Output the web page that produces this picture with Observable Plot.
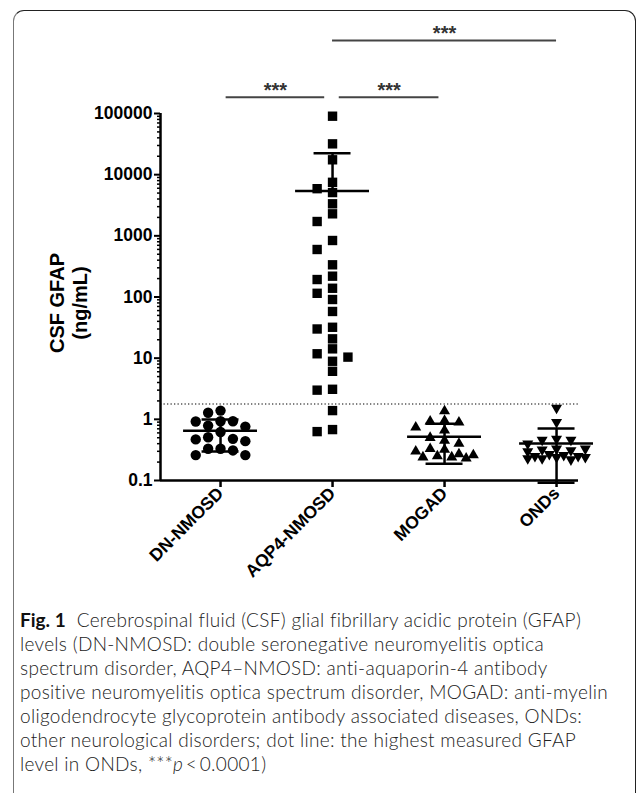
<!DOCTYPE html>
<html><head><meta charset="utf-8">
<script src="https://cdn.jsdelivr.net/npm/d3@7"></script>
<script src="https://cdn.jsdelivr.net/npm/@observablehq/plot@0.6"></script>
<style>
html,body{margin:0;padding:0;background:#fff;}
body{width:637px;height:793px;overflow:hidden;position:relative;font-family:"Liberation Sans",Arial,sans-serif;}
#frame{position:absolute;left:13px;top:10px;width:623px;height:800px;border-top:1.5px solid #222;border-left:1.5px solid #777;border-right:1.5px solid #222;border-radius:11px 11px 0 0;box-sizing:border-box;}
#chart{position:absolute;left:0;top:0;}
#caption{position:absolute;left:20px;top:608px;font-family:Lato,"Open Sans",sans-serif;font-weight:300;font-size:19px;letter-spacing:0.3px;line-height:24px;color:#222;white-space:nowrap;}
#caption b{font-weight:700;color:#111;letter-spacing:0;}
</style>
</head><body>
<div id="frame"></div>
<div id="chart"></div>
<div id="caption">
<div><b>Fig. 1</b>&nbsp; Cerebrospinal fluid (CSF) glial fibrillary acidic protein (GFAP)</div>
<div>levels (DN-NMOSD: double seronegative neuromyelitis optica</div>
<div>spectrum disorder, AQP4–NMOSD: anti-aquaporin-4 antibody</div>
<div>positive neuromyelitis optica spectrum disorder, MOGAD: anti-myelin</div>
<div>oligodendrocyte glycoprotein antibody associated diseases, ONDs:</div>
<div>other neurological disorders; dot line: the highest measured GFAP</div>
<div>level in ONDs, ***<i>p</i>&thinsp;&lt;&thinsp;0.0001)</div>
</div>
<script>
// ---- data (ng/mL) ----
const categories = ["DN-NMOSD", "AQP4-NMOSD", "MOGAD", "ONDs"];
const dnNmosd = [1.39, 1.28, 0.93, 0.92, 0.93, 0.79, 0.76, 0.62, 0.51, 0.48, 0.47, 0.44, 0.33, 0.33, 0.31, 0.26, 0.26];
const aqp4Nmosd = [90300, 31900, 17500, 7500, 5900, 5100, 3340, 2290, 1715, 839, 598, 336, 219, 193, 139, 115, 91, 58, 32, 30, 20.7, 14.2, 11.8, 10.4, 8.9, 6.1, 3.1, 3.0, 1.39, 0.68, 0.63];
const mogad = [1.36, 0.95, 0.93, 0.89, 0.74, 0.66, 0.50, 0.45, 0.40, 0.33, 0.32, 0.30, 0.27, 0.26, 0.25, 0.24, 0.24, 0.23];
const onds = [1.54, 0.90, 0.48, 0.46, 0.46, 0.40, 0.33, 0.33, 0.32, 0.31, 0.30, 0.27, 0.26, 0.25, 0.25, 0.24, 0.24, 0.23, 0.23, 0.22];
const yTicks = [0.1, 1, 10, 100, 1000, 10000, 100000];
const ondsHighest = 1.78; // dotted reference line
// significance brackets (group index span, height in ng/mL)
const sigX1 = [0.05, 1.06, 1.0];
const sigX2 = [0.93, 1.95, 3.0];
const sigY = [1.85e5, 1.85e5, 1.56e6];
const sigLabel = ["***", "***", "***"];

// ---- layout ----
const W = 637, H = 600, mL = 160, mR = 59, mT = 113, mB = 120;
const xDomain = [-0.536, 3.196];
const yDomain = [0.1, 100000];
const yPx = d3.scaleLog().domain(yDomain).range([H - mB, mT]);
const pxPerUnit = (W - mL - mR) / (xDomain[1] - xDomain[0]);

const downTriangle = {
  draw(ctx, size) {
    const s3 = Math.sqrt(3);
    const y = -Math.sqrt(size / (s3 * 3));
    ctx.moveTo(0, -y * 2);
    ctx.lineTo(-s3 * y, y);
    ctx.lineTo(s3 * y, y);
    ctx.closePath();
  }
};

// scatter placement (GraphPad-like) computed from the values
function dodge(vals, gi, step, thr, maxOff) {
  const order = d3.range(vals.length).sort((a, b) => vals[b] - vals[a]);
  const ys = vals.map(v => yPx(v));
  const off = new Array(vals.length);
  const placed = [];
  const ov = d => Math.max(0, thr - Math.abs(d));
  for (const i of order) {
    let best = 0, bestCost = Infinity;
    for (let k = 0; k < 80; k++) {
      const c = k === 0 ? 0 : (k % 2 ? -1 : 1) * Math.ceil(k / 2) * step;
      if (Math.abs(c) > maxOff + 0.01) break;
      let cost = 0;
      for (const j of placed) cost += ov(ys[i] - ys[j]) * ov(c - off[j]);
      if (cost < bestCost - 1e-9) { bestCost = cost; best = c; }
      if (cost === 0) break;
    }
    off[i] = best;
    placed.push(i);
  }
  return vals.map((v, i) => ({x: gi + off[i] / pxPerUnit, v}));
}

const groups = [dnNmosd, aqp4Nmosd, mogad, onds];
const ptsDN = dodge(dnNmosd, 0, 6.2, 10.5, 31);
const ptsAQP = dodge(aqp4Nmosd, 1, 7.7, 9.5, 16);
const ptsMOG = dodge(mogad, 2, 7.2, 9, 29);
const ptsOND = dodge(onds, 3, 7.2, 9, 29);

const stats = groups.map((g, i) => {
  const mean = d3.mean(g), sd = d3.deviation(g);
  return {i, mean, hi: mean + sd, lo: mean - sd};
});
const lowStats = stats.filter(d => d.lo > 0);

const minorTicks = [];
for (let e = -1; e < 5; e++) for (let m = 2; m <= 9; m++) minorTicks.push(m * Math.pow(10, e));

const sigIdx = d3.range(sigX1.length);

const plot = Plot.plot({
  width: W, height: H,
  marginLeft: mL, marginRight: mR, marginTop: mT, marginBottom: mB,
  style: {fontFamily: "Liberation Sans, Arial, sans-serif", color: "#000", background: "transparent", overflow: "visible"},
  x: {type: "linear", domain: xDomain},
  y: {type: "log", domain: yDomain},
  marks: [
    // dotted line: highest measured GFAP in ONDs
    Plot.ruleY([ondsHighest], {stroke: "#555", strokeWidth: 1.3, strokeDasharray: "1.3,2.2"}),
    // axis lines
    Plot.ruleY([yDomain[0]], {strokeWidth: 2.5}),
    Plot.ruleX([xDomain[0]], {strokeWidth: 2.5}),
    Plot.axisY(minorTicks, {tickSize: 3, tickFormat: () => "", strokeWidth: 1.5, label: null}),
    Plot.axisY(yTicks, {tickSize: 6, tickPadding: 2, tickFormat: d => String(d), fontSize: 17.5, fontWeight: "bold", strokeWidth: 2, label: null}),
    Plot.axisX([0, 1, 2, 3], {tickSize: 7, tickPadding: 3, tickRotate: -45, tickFormat: i => categories[i], fontSize: 17.5, fontWeight: "bold", strokeWidth: 2.5, label: null}),
    // axis title
    Plot.text(["CSF GFAP"], {frameAnchor: "left", textAnchor: "middle", rotate: -90, dx: -103, dy: 6, fontSize: 20, fontWeight: "bold"}),
    Plot.text(["(ng/mL)"], {frameAnchor: "left", textAnchor: "middle", rotate: -90, dx: -80, dy: 6, fontSize: 20, fontWeight: "bold"}),
    // points
    Plot.dot(ptsDN, {x: "x", y: "v", r: 5.2, symbol: "circle", fill: "#000", stroke: "none"}),
    Plot.dot(ptsAQP, {x: "x", y: "v", r: 5.3, symbol: "square", fill: "#000", stroke: "none"}),
    Plot.dot(ptsMOG, {x: "x", y: "v", r: 4.1, symbol: "triangle", fill: "#000", stroke: "none"}),
    Plot.dot(ptsOND, {x: "x", y: "v", r: 4.1, symbol: downTriangle, fill: "#000", stroke: "none"}),
    // mean and SD
    Plot.ruleX(stats, {x: "i", y1: d => d.lo > 0 ? d.lo : d.mean, y2: "hi", strokeWidth: 2.5}),
    Plot.ruleY(stats, {y: "mean", x1: d => d.i - 0.33, x2: d => d.i + 0.33, strokeWidth: 2.5}),
    Plot.ruleY(stats, {y: "hi", x1: d => d.i - 0.165, x2: d => d.i + 0.165, strokeWidth: 2.5}),
    Plot.ruleY(lowStats, {y: "lo", x1: d => d.i - 0.165, x2: d => d.i + 0.165, strokeWidth: 2.5}),
    // significance brackets
    Plot.ruleY(sigIdx, {y: i => sigY[i], x1: i => sigX1[i], x2: i => sigX2[i], stroke: "#444", strokeWidth: 2}),
    Plot.text(sigIdx, {x: i => (sigX1[i] + sigX2[i]) / 2, y: i => sigY[i], text: i => sigLabel[i], dy: -7, fontSize: 20, fontWeight: "bold", fill: "#333"})
  ]
});
document.getElementById("chart").appendChild(plot);
</script>
</body></html>
